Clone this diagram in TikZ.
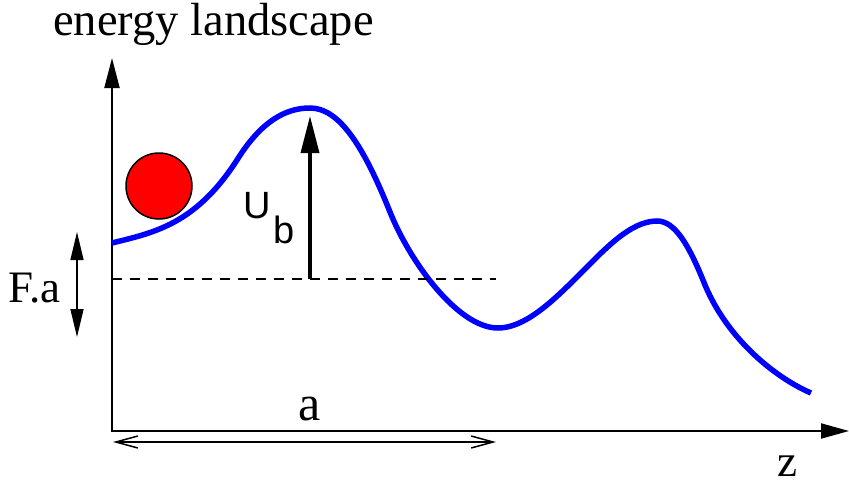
\documentclass[tikz,border=0pt]{standalone}
\usepackage{fontspec}
\setmainfont{Liberation Serif}
\newfontfamily\labelsans{Liberation Sans}
\usetikzlibrary{arrows.meta}

\begin{document}
\begin{tikzpicture}[x=1pt, y=-1pt,
    axis/.style={line width=2pt, {Triangle[length=30pt,width=15pt]}-{Triangle[length=28pt,width=15pt]}},
    landscape/.style={blue, line width=5.5pt},
    bigtext/.style={font=\rmfamily\fontsize{45}{54}\selectfont, inner sep=0pt}]
    \useasboundingbox (0,0) rectangle (849,485);

    % Axes
    \coordinate (ytop) at (112,58);
    \coordinate (origin) at (112,431);
    \coordinate (xend) at (849,431);
    \draw[axis] (ytop) -- (origin) -- (xend);
    \node[bigtext, anchor=base west, font=\rmfamily\fontsize{46.5}{54}\selectfont] (title) at (53,35) {energy landscape};
    \node[bigtext, anchor=base] (zlabel) at (787,476) {z};

    % Energy curve
    \draw[landscape] (112,243)
        .. controls (153.7,232.6) and (195.3,224.7) .. (237,160)
        .. controls (261.3,121.1) and (285.7,108) .. (310,108)
        .. controls (339,108) and (363.3,145.3) .. (390,212)
        .. controls (410,262) and (458,328) .. (498,328)
        .. controls (524,328) and (551,303) .. (577,277)
        .. controls (604,250) and (630,221) .. (657,221)
        .. controls (675,221) and (689,245) .. (705,285)
        .. controls (728,340) and (776,378) .. (811,393);

    % Particle
    \node[circle, draw, line width=1.5pt, fill=red, minimum size=66pt, inner sep=0pt] (ball) at (159,186) {};

    % Reference level and barrier height
    \coordinate (lvl) at (112,279);
    \coordinate (lvlend) at (496,279);
    \draw[line width=1.5pt, dash pattern=on 10pt off 8pt] (lvl) -- (lvlend);
    \coordinate (ubfoot) at (310,279);
    \coordinate (ubtip) at (310,116);
    \draw[line width=3.5pt, -{Triangle[length=37pt,width=18pt]}] (ubfoot) -- (ubtip);
    \node[inner sep=0pt, anchor=base west, font=\labelsans\fontsize{38}{40}\selectfont] (ublabel) at (243,218) {U\kern3pt\raisebox{-25pt}{b}};

    % Tilt F.a
    \coordinate (fatop) at (77,232);
    \coordinate (fabot) at (77,337);
    \draw[line width=1.5pt, {Triangle[length=28pt,width=13pt]}-{Triangle[length=28pt,width=13pt]}] (fatop) -- (fabot);
    \node[bigtext, anchor=base west] (falabel) at (8,302) {F.a};

    % Period a
    \coordinate (aleft) at (113,442);
    \coordinate (aright) at (496,442);
    \draw[line width=1.5pt, {Straight Barb[length=22pt,width=12pt]}-{Straight Barb[length=22pt,width=12pt]}] (aleft) -- (aright);
    \node[bigtext, anchor=base, font=\rmfamily\fontsize{50}{60}\selectfont] (alabel) at (310,420) {a};
\end{tikzpicture}
\end{document}
